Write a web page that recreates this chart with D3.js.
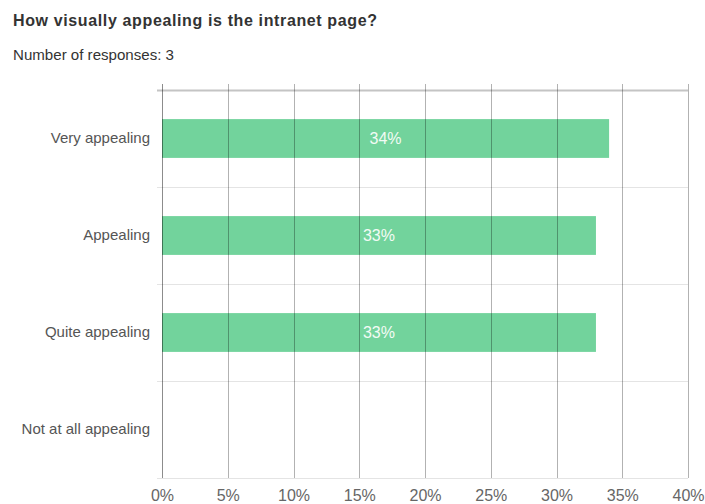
<!DOCTYPE html>
<html>
<head>
<meta charset="utf-8">
<script src="https://cdn.jsdelivr.net/npm/d3@7"></script>
<style>
  body { margin: 0; background: #fff; font-family: "Liberation Sans", Arial, sans-serif; }
</style>
</head>
<body>
<div id="chart"></div>
<script>
// chart data
const categories = ['Very appealing', 'Appealing', 'Quite appealing', 'Not at all appealing']
const percentages = [34, 33, 33, 0]
const ticks = [0, 5, 10, 15, 20, 25, 30, 35, 40]

const W = 705, H = 504
const margin = { top: 90, right: 17, bottom: 26, left: 162 }
const width = W - margin.left - margin.right
const height = H - margin.top - margin.bottom

const rows = categories.map((c, i) => ({ name: c, value: percentages[i] }))

const svg = d3.select('#chart')
  .append('svg')
  .attr('width', W)
  .attr('height', H)

// title + subtitle
svg.append('text')
  .attr('x', 13).attr('y', 26)
  .attr('font-size', 16).attr('font-weight', 'bold')
  .attr('fill', '#333')
  .attr('textLength', 364).attr('lengthAdjust', 'spacing')
  .text('How visually appealing is the intranet page?')

svg.append('text')
  .attr('x', 13).attr('y', 60)
  .attr('font-size', 15)
  .attr('fill', '#333')
  .attr('textLength', 161).attr('lengthAdjust', 'spacingAndGlyphs')
  .text('Number of responses: 3')

const g = svg.append('g')
  .attr('transform', `translate(${margin.left},${margin.top})`)

const x = d3.scaleLinear()
  .domain([0, 40])
  .range([0, width])

const y = d3.scaleBand()
  .domain(categories)
  .range([0, height])
  .paddingInner(0.6)
  .paddingOuter(0.3)

const yb = d3.scaleBand().domain(categories).range([0, height])

// horizontal separators between rows
g.selectAll('.hline')
  .data(d3.range(categories.length + 1))
  .enter()
  .append('line')
  .attr('x1', -5).attr('x2', width)
  .attr('y1', i => i * yb.step() + 0.5)
  .attr('y2', i => i * yb.step() + 0.5)
  .attr('stroke', i => i === 0 ? '#c4c4c4' : '#e4e4e4')
  .attr('stroke-width', i => i === 0 ? 2 : 1)

// bars
g.selectAll('.bar')
  .data(rows)
  .enter()
  .append('rect')
  .attr('class', 'bar')
  .attr('x', 0)
  .attr('y', d => y(d.name))
  .attr('width', d => x(d.value))
  .attr('height', y.bandwidth())
  .attr('fill', '#72d39c')

// vertical gridlines drawn over bars
g.selectAll('.vline')
  .data(ticks)
  .enter()
  .append('line')
  .attr('x1', d => Math.round(x(d)) + 0.5)
  .attr('x2', d => Math.round(x(d)) + 0.5)
  .attr('y1', -6).attr('y2', height)
  .attr('stroke', '#000')
  .attr('stroke-opacity', d => d === 0 ? 0.45 : 0.3)

// value labels
g.selectAll('.val')
  .data(rows.filter(d => d.value > 0))
  .enter()
  .append('text')
  .attr('x', d => x(d.value) / 2)
  .attr('y', d => y(d.name) + y.bandwidth() / 2)
  .attr('dy', '0.35em')
  .attr('text-anchor', 'middle')
  .attr('font-size', 16)
  .attr('fill', '#f2fbf5')
  .text(d => d.value + '%')

// category labels
const yAxis = g.append('g')
  .call(d3.axisLeft(yb).tickSize(0).tickPadding(12))
yAxis.select('.domain').remove()
yAxis.selectAll('text')
  .attr('font-size', 15)
  .attr('font-family', '"Liberation Sans", Arial, sans-serif')
  .attr('fill', '#555')

// x tick labels
const xAxis = g.append('g')
  .attr('transform', `translate(0,${height})`)
  .call(d3.axisBottom(x).tickValues(ticks).tickFormat(d => d + '%').tickSize(0).tickPadding(12))
xAxis.select('.domain').remove()
xAxis.selectAll('text')
  .attr('font-size', 16)
  .attr('font-family', '"Liberation Sans", Arial, sans-serif')
  .attr('fill', '#666')
</script>
</body>
</html>
